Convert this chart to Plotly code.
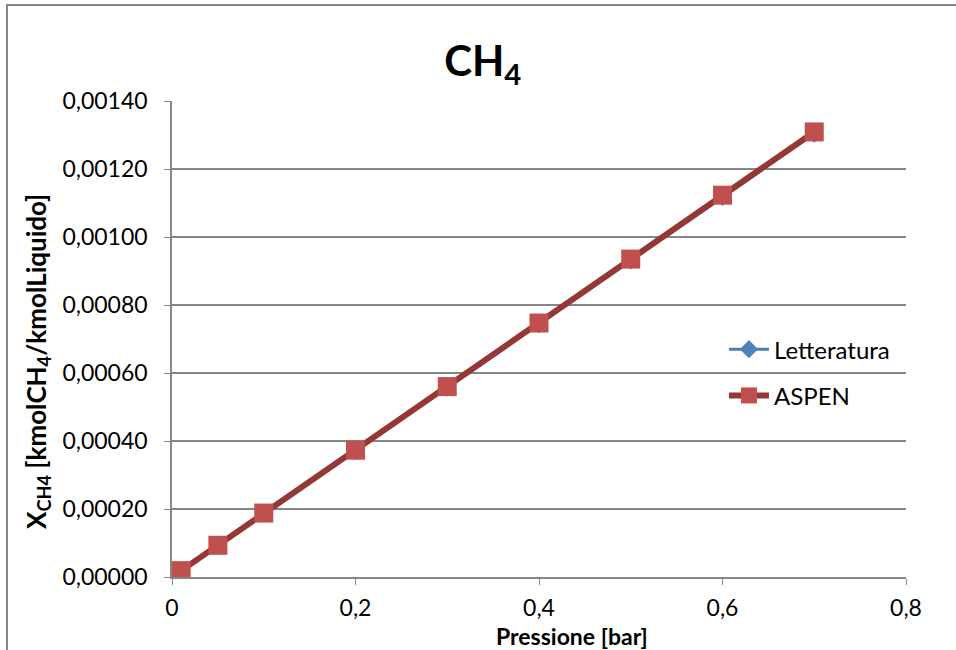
import plotly.graph_objects as go

pressione = [0.01, 0.05, 0.1, 0.2, 0.3, 0.4, 0.5, 0.6, 0.7]
letteratura = [0.0000187, 0.0000930, 0.000186, 0.000371, 0.000557, 0.000744, 0.000931, 0.001118, 0.001304]
aspen = [0.0000187, 0.0000933, 0.000188, 0.000373, 0.000560, 0.000747, 0.000935, 0.001123, 0.001309]

fig = go.Figure()
fig.add_trace(go.Scatter(
    x=pressione, y=letteratura, name="Letteratura", mode="lines+markers",
    legendgroup="a",
    line=dict(color="#4A7EBB", width=3),
    marker=dict(symbol="diamond", size=14, color="#4F81BD"),
))
fig.add_trace(go.Scatter(
    x=pressione, y=aspen, name="ASPEN", mode="lines+markers",
    legendgroup="b",
    line=dict(color="#953735", width=6),
    marker=dict(symbol="square", size=19, color="#C0504D"),
))

font_family = "Lato, Liberation Sans, sans-serif"

fig.update_layout(
    width=956, height=650,
    margin=dict(l=172, r=50, t=101, b=73),
    paper_bgcolor="white", plot_bgcolor="white",
    separators=",.",
    font=dict(family=font_family, size=23, color="black"),
    title=dict(text="<b>CH<sub>4</sub></b>", x=0.505, xanchor="center",
               y=0.905, yanchor="middle", font=dict(size=42, family=font_family)),
    showlegend=True,
    legend=dict(x=0.752, y=0.525, xanchor="left", yanchor="top",
                font=dict(size=24, family=font_family), bgcolor="rgba(0,0,0,0)",
                traceorder="grouped", tracegroupgap=12, itemwidth=40),
    xaxis=dict(
        range=[0, 0.8], dtick=0.2, tick0=0, showgrid=False, zeroline=False,
        showline=True, linecolor="#868686", linewidth=1.5,
        ticks="outside", ticklen=6, tickcolor="#868686",
        tickfont=dict(size=23), ticklabelstandoff=4,
    ),
    yaxis=dict(
        range=[0, 0.0014], dtick=0.0002, tick0=0, tickformat=".5f",
        showgrid=True, gridcolor="#868686", gridwidth=1.5, zeroline=False,
        showline=True, linecolor="#868686", linewidth=1.5,
        ticks="outside", ticklen=6, tickcolor="#868686",
        tickfont=dict(size=23), ticklabelstandoff=12,
    ),
    annotations=[
        dict(text="<b>Pressione [bar]</b>", xref="paper", yref="paper",
             x=(572 - 172) / 734, y=(577 - 636) / 476, xanchor="center", yanchor="middle",
             showarrow=False, font=dict(size=23, family=font_family)),
        dict(text="<b>X<sub>CH4</sub> [kmolCH<sub>4</sub>/kmolLiquido]</b>", xref="paper", yref="paper",
             x=(37 - 172) / 734, y=(577 - 362) / 476, xanchor="center", yanchor="middle",
             textangle=-90, showarrow=False, font=dict(size=26, family=font_family)),
    ],
    shapes=[dict(type="rect", xref="paper", yref="paper",
                 x0=(7 - 172) / 734, x1=1.3, y0=-0.3, y1=1 + (101 - 5) / 476,
                 line=dict(color="#868686", width=2), layer="below")],
)

fig.write_html("out.html")
